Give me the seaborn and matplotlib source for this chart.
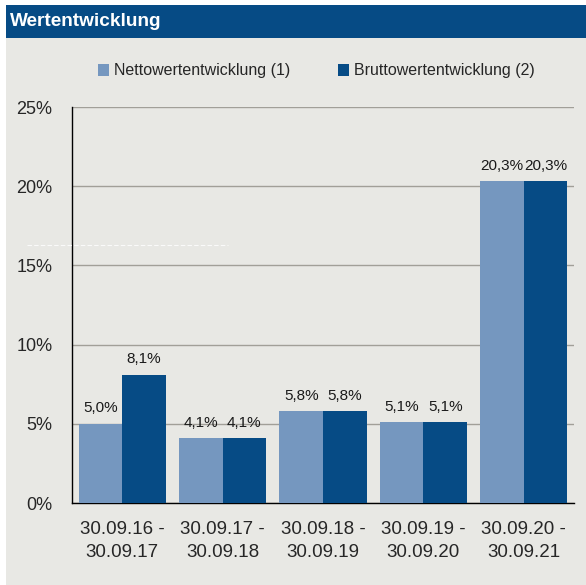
import pandas as pd
import seaborn as sns
import matplotlib.pyplot as plt
from matplotlib.patches import Rectangle
from matplotlib.lines import Line2D

# Daten
zeitraeume = ['30.09.16 -\n30.09.17', '30.09.17 -\n30.09.18', '30.09.18 -\n30.09.19',
              '30.09.19 -\n30.09.20', '30.09.20 -\n30.09.21']
netto = [5.0, 4.1, 5.8, 5.1, 20.3]
brutto = [8.1, 4.1, 5.8, 5.1, 20.3]
serien = ['Nettowertentwicklung (1)', 'Bruttowertentwicklung (2)']
farben = ['#7597bf', '#064b85']

df = pd.DataFrame({
    'Zeitraum': zeitraeume * 2,
    'Wert': netto + brutto,
    'Serie': [serien[0]] * len(netto) + [serien[1]] * len(brutto),
})

sns.set_style('white')
plt.rcParams['font.family'] = ['Liberation Sans', 'DejaVu Sans']

fig = plt.figure(figsize=(5.86, 5.85), dpi=100)
fig.patch.set_facecolor('white')

# Hintergrund und Titelbalken
bg = '#e8e8e4'
fig.add_artist(Rectangle((6 / 586, 0), 1, 1 - 38 / 585, transform=fig.transFigure,
                         facecolor=bg, edgecolor='none', zorder=0))
fig.add_artist(Rectangle((6 / 586, 1 - 38 / 585), 1, 33 / 585, transform=fig.transFigure,
                         facecolor='#064b85', edgecolor='none', zorder=0))
fig.text(10 / 586, 1 - 22 / 585, 'Wertentwicklung', color='white', fontsize=13.7,
         fontweight='bold', va='center', ha='left')
# schwache gestrichelte Linie (wie im Original)
fig.add_artist(Line2D([27 / 586, 228 / 586], [1 - 245 / 585] * 2, transform=fig.transFigure,
                      color='white', linewidth=0.8, linestyle=(0, (4, 2)), alpha=0.8))

ax = fig.add_axes([72 / 586, 82 / 585, 502 / 586, 396 / 585])
ax.set_facecolor(bg)

sns.barplot(data=df, x='Zeitraum', y='Wert', hue='Serie', palette=farben,
            width=0.87, gap=0, linewidth=0, saturation=1, ax=ax, zorder=3)

for cont in ax.containers:
    ax.bar_label(cont, labels=[f'{v:.1f}%'.replace('.', ',') for v in cont.datavalues],
                 padding=6, fontsize=11, color='#1a1a1a')

ax.set_ylim(0, 25)
ax.set_xlim(-0.5, len(zeitraeume) - 0.5)
ax.set_yticks([0, 5, 10, 15, 20, 25])
ax.set_yticklabels([f'{t}%' for t in [0, 5, 10, 15, 20, 25]], fontsize=13)
ax.yaxis.grid(True, color='#a19f98', linewidth=1, zorder=1)
ax.set_axisbelow(True)

# Kategorien-Beschriftung, Ticks an den Grenzen
ax.set_xticks([i + 0.5 for i in range(-1, len(zeitraeume))], labels=[''] * (len(zeitraeume) + 1))
ax.set_xticks(range(len(zeitraeume)), labels=zeitraeume, minor=True)
for lab in ax.get_xticklabels(minor=True):
    lab.set_linespacing(1.45)
ax.tick_params(axis='x', which='major', length=6, width=1, color='black', direction='out')
ax.tick_params(axis='x', which='minor', length=0, labelsize=13.5, pad=13)
ax.tick_params(axis='y', length=6, width=1, color='black', direction='out', pad=8)

for side in ['top', 'right']:
    ax.spines[side].set_visible(False)
for side in ['left', 'bottom']:
    ax.spines[side].set_color('black')
    ax.spines[side].set_linewidth(1)

ax.set_xlabel('')
ax.set_ylabel('')

ax.legend(loc='center', bbox_to_anchor=(316 / 586, 1 - 71 / 585), bbox_transform=fig.transFigure,
          ncol=2, frameon=False, fontsize=11.5, handlelength=0.7, handleheight=0.7,
          handletextpad=0.3, columnspacing=3.0)

fig.savefig('out.png', dpi=100, facecolor=fig.get_facecolor())
